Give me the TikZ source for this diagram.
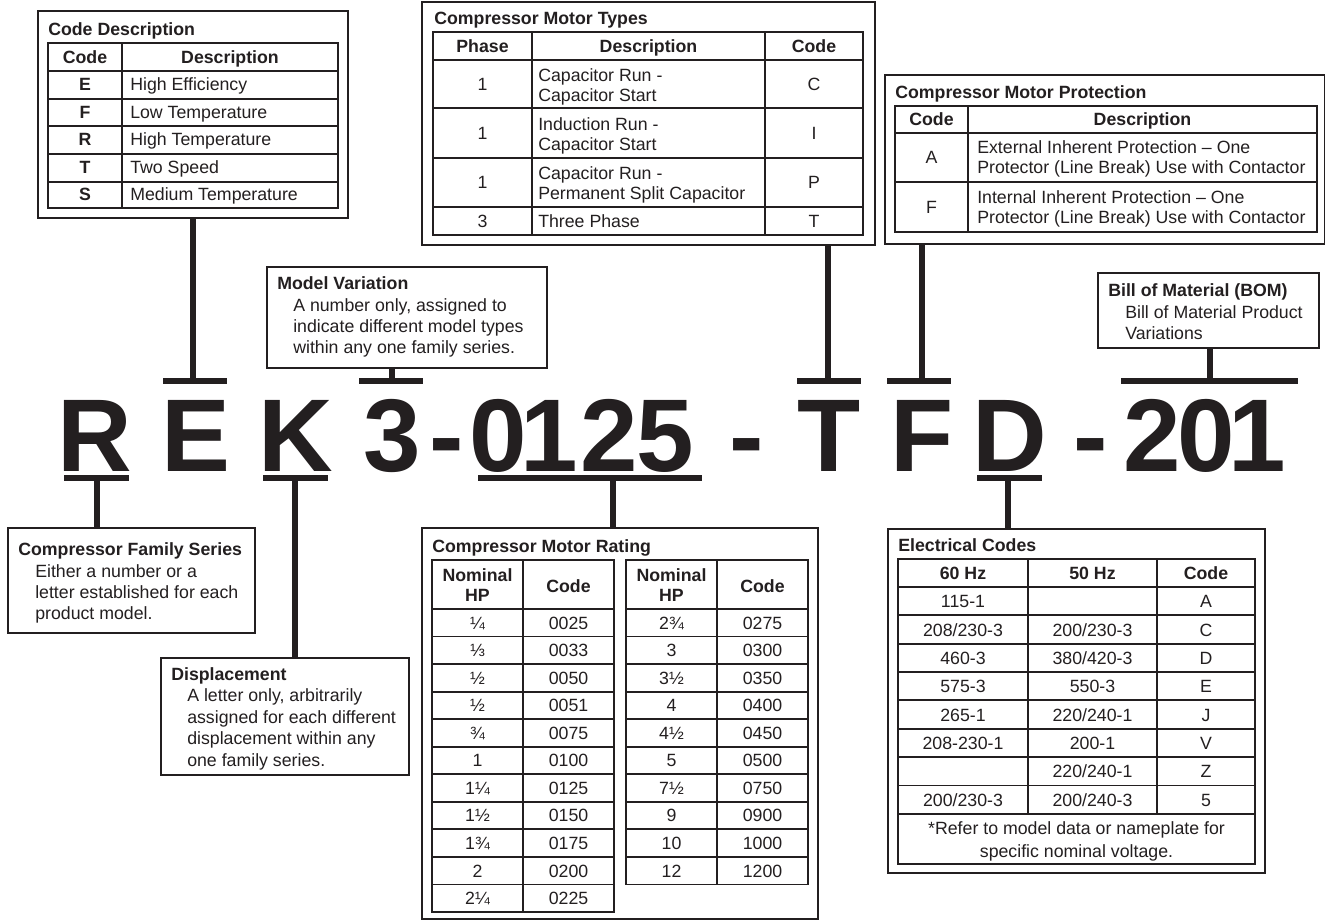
\documentclass[tikz,border=0pt]{standalone}
\usepackage{fontspec}
\setmainfont{Liberation Sans}
\usetikzlibrary{fit}
\definecolor{ink}{HTML}{231F20}
\newcommand\fs{\fontsize{13.3}{15.5}\selectfont}
\begin{document}
\begin{tikzpicture}[x=0.75pt,y=-0.75pt,
  every node/.style={text=ink},
  boxst/.style={draw=ink,line width=1.5pt,inner sep=0pt},
  grd/.style={draw=ink,line width=1.4pt},
  conn/.style={draw=ink,line width=5.2pt},
  cell/.style={inner sep=0pt,anchor=center,text height=9.5pt,text depth=0pt,font=\fs},
  bcell/.style={cell,font=\fs\bfseries},
  lcell/.style={cell,anchor=west},
  ttl/.style={lcell,font=\fs\bfseries},
  big/.style={inner sep=0pt,anchor=base,font=\fontsize{77.5}{80}\selectfont\bfseries}]
\fill[white] (0,0) rectangle (1325,921);
\useasboundingbox (0,0) rectangle (1325,921);

% ---------- Code Description ----------
\node[boxst,fit={(38,11)(348,218)}] (cd) {};
\node[ttl] (cdt) at (48,29) {Code Description};
\draw[grd] (48,43) rectangle (338,208) (122,43) -- (122,208);
\foreach \y in {71,99,126,154,182} \draw[grd] (48,\y) -- (338,\y);
\node[bcell] (cdh1) at (85,57) {Code};
\node[bcell] (cdh2) at (230,57) {Description};
\foreach \c/\d [count=\i] in {E/High Efficiency, F/Low Temperature, R/High Temperature, T/Two Speed, S/Medium Temperature} {
  \node[bcell] (cdc\i) at (85,{57+27.5*\i}) {\c};
  \node[lcell] (cdd\i) at (130,{57+27.5*\i}) {\d};
}

% ---------- Compressor Motor Types ----------
\node[boxst,fit={(422,2)(875,245)}] (mt) {};
\node[ttl] (mtt) at (434,18) {Compressor Motor Types};
\draw[grd] (433,32) rectangle (863,235) (532,32) -- (532,235) (765,32) -- (765,235);
\foreach \y in {60,108,158,207} \draw[grd] (433,\y) -- (863,\y);
\node[bcell] (mth1) at (482.5,46) {Phase};
\node[bcell] (mth2) at (648.5,46) {Description};
\node[bcell] (mth3) at (814,46) {Code};
\node[cell] (mtp1) at (482.5,84) {1};
\node[lcell] (mta1) at (538,75) {Capacitor Run -};
\node[lcell] (mtb1) at (538,95) {Capacitor Start};
\node[cell] (mtc1) at (814,84) {C};
\node[cell] (mtp2) at (482.5,133) {1};
\node[lcell] (mta2) at (538,124) {Induction Run -};
\node[lcell] (mtb2) at (538,144) {Capacitor Start};
\node[cell] (mtc2) at (814,133) {I};
\node[cell] (mtp3) at (482.5,182.5) {1};
\node[lcell] (mta3) at (538,173.5) {Capacitor Run -};
\node[lcell] (mtb3) at (538,193.5) {Permanent Split Capacitor};
\node[cell] (mtc3) at (814,182.5) {P};
\node[cell] (mtp4) at (482.5,221) {3};
\node[lcell] (mta4) at (538,221) {Three Phase};
\node[cell] (mtc4) at (814,221) {T};

% ---------- Compressor Motor Protection ----------
\node[boxst,fit={(885,75)(1325,244)}] (mp) {};
\node[ttl] (mpt) at (895,92) {Compressor Motor Protection};
\draw[grd] (895,106) rectangle (1317,232) (968,106) -- (968,232);
\foreach \y in {133,182} \draw[grd] (895,\y) -- (1317,\y);
\node[bcell] (mph1) at (931.5,119.5) {Code};
\node[bcell] (mph2) at (1142.5,119.5) {Description};
\node[cell] (mpc1) at (931.5,157.5) {A};
\node[lcell] (mpa1) at (977,147.5) {External Inherent Protection – One};
\node[lcell] (mpb1) at (977,167.5) {Protector (Line Break) Use with Contactor};
\node[cell] (mpc2) at (931.5,207) {F};
\node[lcell] (mpa2) at (977,197) {Internal Inherent Protection – One};
\node[lcell] (mpb2) at (977,217) {Protector (Line Break) Use with Contactor};

% ---------- Model Variation ----------
\node[boxst,fit={(267,267)(547,368)}] (mv) {};
\node[ttl] (mvt) at (277,283) {Model Variation};
\node[lcell] (mv1) at (293,305) {A number only, assigned to};
\node[lcell] (mv2) at (293,326) {indicate different model types};
\node[lcell] (mv3) at (293,347) {within any one family series.};

% ---------- BOM ----------
\node[boxst,fit={(1098,273)(1319,348)}] (bom) {};
\node[ttl] (bomt) at (1108,290) {Bill of Material (BOM)};
\node[lcell] (bom1) at (1125,312) {Bill of Material Product};
\node[lcell] (bom2) at (1125,333) {Variations};

% ---------- Compressor Family Series ----------
\node[boxst,fit={(8,528)(255,633)}] (fs) {};
\node[ttl] (fst) at (18,549) {Compressor Family Series};
\node[lcell] (fs1) at (35,571) {Either a number or a};
\node[lcell] (fs2) at (35,592) {letter established for each};
\node[lcell] (fs3) at (35,613) {product model.};

% ---------- Displacement ----------
\node[boxst,fit={(161,658)(409,775)}] (dp) {};
\node[ttl] (dpt) at (171,674) {Displacement};
\node[lcell] (dp1) at (187,695) {A letter only, arbitrarily};
\node[lcell] (dp2) at (187,717) {assigned for each different};
\node[lcell] (dp3) at (187,738) {displacement within any};
\node[lcell] (dp4) at (187,760) {one family series.};

% ---------- Compressor Motor Rating ----------
\node[boxst,fit={(422,528)(818,919)}] (mr) {};
\node[ttl] (mrt) at (432,546) {Compressor Motor Rating};
\draw[grd] (432,560) rectangle (614,912) (523,560) -- (523,912);
\draw[grd] (626,560) rectangle (808,884.5) (717,560) -- (717,884.5);
\draw[grd] (432,609) -- (614,609) (626,609) -- (808,609);
\foreach \k in {1,...,10} {
  \draw[grd] (432,{609+27.55*\k}) -- (614,{609+27.55*\k});
}
\foreach \k in {1,...,9} {
  \draw[grd] (626,{609+27.55*\k}) -- (808,{609+27.55*\k});
}
\node[bcell] (mrh1) at (477.5,575) {Nominal};
\node[bcell] (mrh2) at (477.5,595) {HP};
\node[bcell] (mrh3) at (568.5,586) {Code};
\node[bcell] (mrh4) at (671.5,575) {Nominal};
\node[bcell] (mrh5) at (671.5,595) {HP};
\node[bcell] (mrh6) at (762.5,586) {Code};
\foreach \h/\c [count=\i] in {¼/0025, ⅓/0033, ½/0050, ½/0051, ¾/0075, 1/0100, 1¼/0125, 1½/0150, 1¾/0175, 2/0200, 2¼/0225} {
  \node[cell] (mlh\i) at (477.5,{622.8+27.55*(\i-1)}) {\h};
  \node[cell] (mlc\i) at (568.5,{622.8+27.55*(\i-1)}) {\c};
}
\foreach \h/\c [count=\i] in {2¾/0275, 3/0300, 3½/0350, 4/0400, 4½/0450, 5/0500, 7½/0750, 9/0900, 10/1000, 12/1200} {
  \node[cell] (mrh\i x) at (671.5,{622.8+27.55*(\i-1)}) {\h};
  \node[cell] (mrc\i) at (762.5,{622.8+27.55*(\i-1)}) {\c};
}

% ---------- Electrical Codes ----------
\node[boxst,fit={(888,529)(1265,873)}] (ec) {};
\node[ttl] (ect) at (898,545) {Electrical Codes};
\draw[grd] (898,559) rectangle (1255,864);
\draw[grd] (1028,559) -- (1028,813.8) (1157,559) -- (1157,813.8);
\foreach \k in {0,...,8} {
  \draw[grd] (898,{587+28.35*\k}) -- (1255,{587+28.35*\k});
}
\node[bcell] (ech1) at (963,573) {60 Hz};
\node[bcell] (ech2) at (1092.5,573) {50 Hz};
\node[bcell] (ech3) at (1206,573) {Code};
\foreach \t [count=\i] in {115-1, 208/230-3, 460-3, 575-3, 265-1, 208-230-1, {}, 200/230-3} {
  \node[cell] (eca\i) at (963,{601.5+28.35*(\i-1)}) {\t};
}
\foreach \t [count=\i] in {{}, 200/230-3, 380/420-3, 550-3, 220/240-1, 200-1, 220/240-1, 200/240-3} {
  \node[cell] (ecb\i) at (1092.5,{601.5+28.35*(\i-1)}) {\t};
}
\foreach \t [count=\i] in {A, C, D, E, J, V, Z, 5} {
  \node[cell] (ecc\i) at (1206,{601.5+28.35*(\i-1)}) {\t};
}
\node[cell] (ecf1) at (1076.5,828) {*Refer to model data or nameplate for};
\node[cell] (ecf2) at (1076.5,851) {specific nominal voltage.};

% ---------- Model number ----------
\node[big] (cR) at (94.5,471) {R};
\node[big] (cE) at (195.5,471) {E};
\node[big] (cK) at (295.5,471) {K};
\node[big] (c3) at (392,471) {3};
\node[big] (d1) at (447,471) {-};
\node[big] (c0) at (498.5,471) {0};
\node[big] (c1) at (549,471) {1};
\node[big] (c2) at (609,471) {2};
\node[big] (c5) at (665.5,471) {5};
\node[big] (d2) at (747,471) {-};
\node[big] (cT) at (829,471) {T};
\node[big] (cF) at (922.5,471) {F};
\node[big] (cD) at (1009.5,471) {D};
\node[big] (d3) at (1090.5,471) {-};
\node[big] (b2) at (1152.5,471) {2};
\node[big] (b0) at (1206,471) {0};
\node[big] (b1) at (1257.5,471) {1};

% ---------- Connectors ----------
\coordinate (eJ) at (193,381);  \coordinate (eL) at (163,381);  \coordinate (eR) at (227,381);
\coordinate (vJ) at (392,381);  \coordinate (vL) at (359,381);  \coordinate (vR) at (423,381);
\coordinate (tJ) at (828,381);  \coordinate (tL) at (797,381);  \coordinate (tR) at (861,381);
\coordinate (fJ) at (922,381);  \coordinate (fL) at (887,381);  \coordinate (fR) at (951,381);
\coordinate (bJ) at (1210,381); \coordinate (bL) at (1121,381); \coordinate (bR) at (1298,381);
\coordinate (rJ) at (97,478);   \coordinate (rL) at (64,478);   \coordinate (rR) at (129,478);
\coordinate (kJ) at (295,478);  \coordinate (kL) at (263,478);  \coordinate (kR) at (328,478);
\coordinate (nJ) at (613,478);  \coordinate (nL) at (478,478);  \coordinate (nR) at (702,478);
\coordinate (dJ) at (1008,478); \coordinate (dL) at (977,478);  \coordinate (dR) at (1042,478);

\draw[conn] (cd.south -| eJ) -- (eJ);  \draw[conn] (eL) -- (eR);
\draw[conn] (mv.south -| vJ) -- (vJ);  \draw[conn] (vL) -- (vR);
\draw[conn] (mt.south -| tJ) -- (tJ);  \draw[conn] (tL) -- (tR);
\draw[conn] (mp.south -| fJ) -- (fJ);  \draw[conn] (fL) -- (fR);
\draw[conn] (bom.south -| bJ) -- (bJ); \draw[conn] (bL) -- (bR);
\draw[conn] (rL) -- (rR); \draw[conn] (rJ) -- (fs.north -| rJ);
\draw[conn] (kL) -- (kR); \draw[conn] (kJ) -- (dp.north -| kJ);
\draw[conn] (nL) -- (nR); \draw[conn] (nJ) -- (mr.north -| nJ);
\draw[conn] (dL) -- (dR); \draw[conn] (dJ) -- (ec.north -| dJ);
\end{tikzpicture}
\end{document}
